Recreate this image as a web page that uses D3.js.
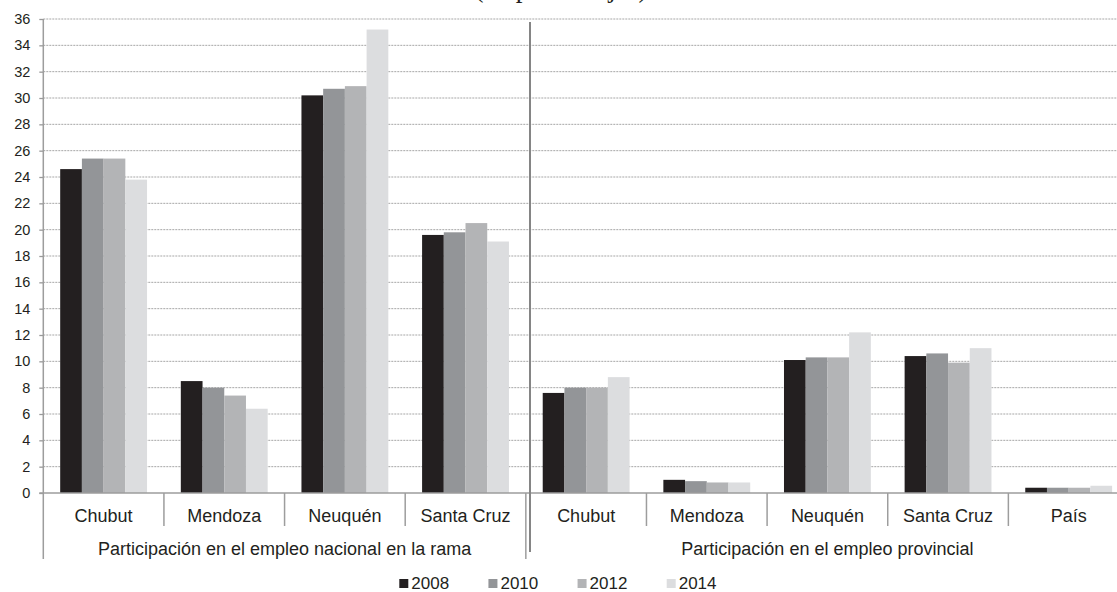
<!DOCTYPE html>
<html>
<head>
<meta charset="utf-8">
<script src="https://cdn.jsdelivr.net/npm/d3@7"></script>
<style>
  html, body { margin: 0; padding: 0; background: #fff; overflow: hidden; }
  text { font-family: "Liberation Sans", Arial, sans-serif; fill: #231f20; }
</style>
</head>
<body>
<svg id="chart" width="1117" height="592"></svg>
<script>
// ---- data ----
const title = "(en porcentajes)";
const groups = ["Participación en el empleo nacional en la rama", "Participación en el empleo provincial"];
const groupCategories = [
  ["Chubut", "Mendoza", "Neuquén", "Santa Cruz"],
  ["Chubut", "Mendoza", "Neuquén", "Santa Cruz", "País"]
];
const years = ["2008", "2010", "2012", "2014"];
const v2008 = [24.6, 8.5, 30.2, 19.6, 7.6, 1.0, 10.1, 10.4, 0.4];
const v2010 = [25.4, 8.0, 30.7, 19.8, 8.0, 0.9, 10.3, 10.6, 0.4];
const v2012 = [25.4, 7.4, 30.9, 20.5, 8.0, 0.8, 10.3, 9.9, 0.4];
const v2014 = [23.8, 6.4, 35.2, 19.1, 8.8, 0.8, 12.2, 11.0, 0.55];
const yTicks = [0, 2, 4, 6, 8, 10, 12, 14, 16, 18, 20, 22, 24, 26, 28, 30, 32, 34, 36];
const colors = ["#231f20", "#939598", "#b3b4b6", "#dcdddf"];

(function () {
const series = [v2008, v2010, v2012, v2014];
const cats = [];
groupCategories.forEach((list, gi) => list.forEach(c => cats.push({ key: gi + "|" + c, name: c, group: gi })));

const svg = d3.select("#chart");
const W = 1117;
const mLeft = 43.3, mRight = 1129, mTop = 19, base = 493;

const x = d3.scaleBand().domain(cats.map(d => d.key)).range([mLeft, mRight]).paddingInner(0.28).paddingOuter(0.14);
const xi = d3.scaleBand().domain(years).range([0, x.bandwidth()]);
const y = d3.scaleLinear().domain([0, 36]).range([base, mTop]);

// title (mostly cut off at the top, as in the source)
svg.append("text").attr("x", 561).attr("y", -3).attr("text-anchor", "middle")
  .style("font-family", "'Liberation Serif', 'Times New Roman', serif").style("font-size", "27px")
  .text(title);

// gridlines
svg.append("g").selectAll("line").data(yTicks.filter(t => t > 0)).join("line")
  .attr("x1", mLeft).attr("x2", W).attr("y1", d => y(d)).attr("y2", d => y(d))
  .attr("stroke", "#a6a6a6").attr("stroke-width", 1).attr("stroke-dasharray", "2,1");

// y axis
const yAxis = d3.axisLeft(y).tickValues(yTicks).tickSize(4).tickPadding(9).tickFormat(d3.format("d"));
const ya = svg.append("g").attr("transform", `translate(${mLeft},0)`).call(yAxis);
ya.select(".domain").remove();
ya.selectAll(".tick line").attr("stroke", "#999").attr("stroke-width", 1.3);
ya.selectAll(".tick text").style("font-size", "14.5px").style("font-family", "'Liberation Sans', Arial, sans-serif").attr("fill", "#231f20");

// bars
const barG = svg.append("g");
cats.forEach((c, ci) => {
  years.forEach((yr, si) => {
    const v = series[si][ci];
    barG.append("rect")
      .attr("x", x(c.key) + xi(yr))
      .attr("y", y(v))
      .attr("width", xi.bandwidth())
      .attr("height", y(0) - y(v))
      .attr("fill", colors[si]);
  });
});

// axis lines
const axisColor = "#9d9d9d";
svg.append("line").attr("x1", mLeft).attr("x2", mLeft).attr("y1", mTop).attr("y2", 559)
  .attr("stroke", axisColor).attr("stroke-width", 1.5);
svg.append("line").attr("x1", mLeft - 4).attr("x2", W).attr("y1", base).attr("y2", base)
  .attr("stroke", axisColor).attr("stroke-width", 1.5);

// category separators
const step = x.step();
let idx = 0;
groupCategories.forEach((list, gi) => {
  list.forEach((c, k) => {
    if (k > 0) {
      const bx = x.range()[0] + (idx + k) * step;
      svg.append("line").attr("x1", bx).attr("x2", bx).attr("y1", base).attr("y2", 526)
        .attr("stroke", axisColor).attr("stroke-width", 1.5);
    }
  });
  idx += list.length;
  const gx = x.range()[0] + idx * step;
  svg.append("line").attr("x1", gx).attr("x2", gx).attr("y1", base).attr("y2", 559)
    .attr("stroke", axisColor).attr("stroke-width", 1.5);
});

// category labels
svg.append("g").selectAll("text").data(cats).join("text")
  .attr("x", d => x(d.key) + x.bandwidth() / 2).attr("y", 522)
  .attr("text-anchor", "middle").style("font-size", "18px")
  .text(d => d.name);

// group labels
let start = 0;
groups.forEach((g, gi) => {
  const n = groupCategories[gi].length;
  const x0 = x.range()[0] + start * step;
  const x1 = x.range()[0] + (start + n) * step;
  svg.append("text").attr("x", (x0 + x1) / 2).attr("y", 555)
    .attr("text-anchor", "middle").style("font-size", "18px").text(g);
  start += n;
});

// divider line
svg.append("line").attr("x1", 530).attr("x2", 530).attr("y1", 22).attr("y2", 552)
  .attr("stroke", "#858585").attr("stroke-width", 2);

// legend
const legendX = d3.scalePoint().domain(years).range([399.3, 666.7]);
const lg = svg.append("g");
years.forEach((yr, i) => {
  lg.append("rect").attr("x", legendX(yr)).attr("y", 579).attr("width", 9).attr("height", 9).attr("fill", colors[i]);
  lg.append("text").attr("x", legendX(yr) + 12).attr("y", 589).style("font-size", "17px").text(yr);
});
})();
</script>
</body>
</html>
